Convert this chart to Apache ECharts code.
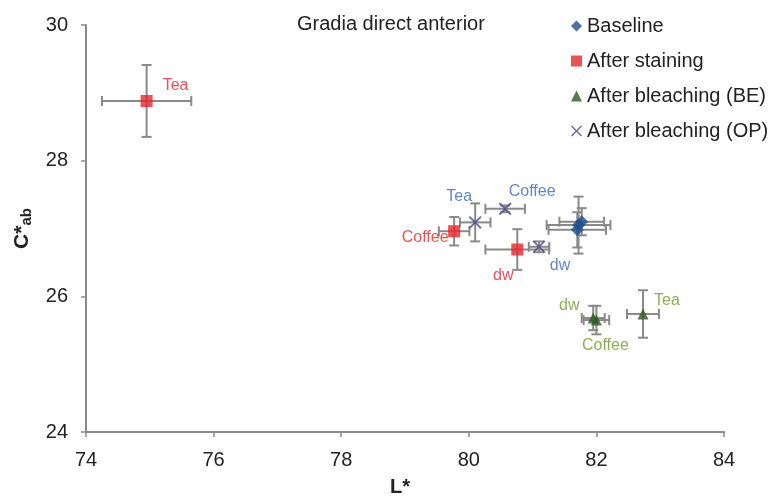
<!DOCTYPE html>
<html>
<head>
<meta charset="utf-8">
<script src="https://cdn.jsdelivr.net/npm/echarts@6/dist/echarts.min.js"></script>
<style>
  html, body { margin: 0; padding: 0; background: #fff; }
  #chart { width: 780px; height: 496px; }
</style>
</head>
<body>
<div id="chart"></div>
<script>
// values: [L*, C*ab], errors: [L* err, C* err]
const baseline = [[81.72, 27.05], [81.77, 27.10], [81.70, 26.98]];
const baselineErr = [[0.50, 0.42], [0.35, 0.20], [0.45, 0.26]];

const staining = [[74.95, 28.88], [79.77, 26.96], [80.76, 26.69]];
const stainingErr = [[0.70, 0.53], [0.24, 0.21], [0.50, 0.30]];
const stainingNames = ['Tea', 'Coffee', 'dw'];

const bleachBE = [[82.73, 25.74], [82.00, 25.65], [81.95, 25.68]];
const bleachBEErr = [[0.25, 0.35], [0.20, 0.21], [0.18, 0.18]];
const bleachBENames = ['Tea', 'Coffee', 'dw'];

const bleachOP = [[80.10, 27.09], [80.57, 27.29], [81.10, 26.73]];
const bleachOPErr = [[0.24, 0.28], [0.31, 0.05], [0.16, 0.08]];
const bleachOPNames = ['Tea', 'Coffee', 'dw'];

const xTicks = [74, 76, 78, 80, 82, 84];
const yTicks = [24, 26, 28, 30];

let chart = echarts.init(document.getElementById('chart'));

// 误差线
function errData(pts, errs) {
  return pts.map((p, i) => [p[0], p[1], errs[i][0], errs[i][1]]);
}
function renderErr(params, api) {
  const x = api.value(0), y = api.value(1), ex = api.value(2), ey = api.value(3);
  const l = api.coord([x - ex, y]), r = api.coord([x + ex, y]);
  const t = api.coord([x, y + ey]), b = api.coord([x, y - ey]);
  const c = 5;
  const style = { stroke: '#8a8a8a', lineWidth: 2 };
  const line = (x1, y1, x2, y2) => ({ type: 'line', shape: { x1, y1, x2, y2 }, style });
  return {
    type: 'group',
    children: [
      line(l[0], l[1], r[0], r[1]),
      line(l[0], l[1] - c, l[0], l[1] + c),
      line(r[0], r[1] - c, r[0], r[1] + c),
      line(t[0], t[1], b[0], b[1]),
      line(t[0] - c, t[1], t[0] + c, t[1]),
      line(b[0] - c, b[1], b[0] + c, b[1])
    ]
  };
}
function errSeries(pts, errs) {
  return {
    type: 'custom',
    renderItem: renderErr,
    data: errData(pts, errs),
    silent: true,
    z: 1,
    encode: { x: 0, y: 1 }
  };
}

// label offsets (pixels, relative to marker centre)
const stainOff = [[29, -15], [-29, 6], [-14, 26]];
const beOff = [[24, -13], [9, 26], [-24, -12]];
const opOff = [[-16, -26], [27, -17], [21, 19]];

function labelled(pts, names, offs, color) {
  return pts.map((p, i) => ({
    value: p,
    label: {
      show: true,
      position: 'inside',
      offset: offs[i],
      formatter: names[i],
      color: color,
      fontSize: 16,
      fontFamily: 'Liberation Sans, Arial, sans-serif'
    }
  }));
}

const xShape = 'path://M0,1L1,0L5,4L9,0L10,1L6,5L10,9L9,10L5,6L1,10L0,9L4,5Z';

let option = {
  animation: false,
  textStyle: { fontFamily: 'Liberation Sans, Arial, sans-serif' },
  title: {
    text: 'Gradia direct anterior',
    left: 292,
    top: 9,
    textStyle: { fontSize: 20, fontWeight: 'normal', color: '#222' }
  },
  legend: {
    orient: 'vertical',
    left: 566,
    top: 11,
    itemWidth: 11,
    itemHeight: 11,
    itemGap: 15,
    textStyle: { fontSize: 20, color: '#222' },
    data: [
      { name: 'Baseline', icon: 'diamond' },
      { name: 'After staining', icon: 'rect' },
      { name: 'After bleaching (BE)', icon: 'triangle' },
      { name: 'After bleaching (OP)', icon: xShape }
    ]
  },
  grid: { left: 86, right: 56, top: 25, bottom: 64, outerBoundsMode: 'none' },
  xAxis: {
    type: 'value',
    min: 74, max: 84, interval: 2,
    name: 'L*',
    nameLocation: 'middle',
    nameGap: 45,
    nameTextStyle: { fontSize: 20, fontWeight: 'bold', color: '#222', padding: [0, 10, 0, 0] },
    axisLine: { lineStyle: { color: '#8a8a8a', width: 2 } },
    axisTick: { show: true, length: 5, lineStyle: { color: '#8a8a8a', width: 1.5 } },
    axisLabel: { fontSize: 20, color: '#222', margin: 18 },
    splitLine: { show: false }
  },
  yAxis: {
    type: 'value',
    min: 24, max: 30, interval: 2,
    name: '{a|C*}{s|ab}',
    nameLocation: 'middle',
    nameRotate: 90,
    nameGap: 50,
    nameTextStyle: {
      rich: {
        a: { fontSize: 21, fontWeight: 'bold', color: '#222' },
        s: { fontSize: 15, fontWeight: 'bold', color: '#222', padding: [10, 0, 0, 0] }
      }
    },
    axisLine: { show: true, lineStyle: { color: '#8a8a8a', width: 2 } },
    axisTick: { show: true, length: 5, lineStyle: { color: '#8a8a8a', width: 1.5 } },
    axisLabel: { fontSize: 20, color: '#222', margin: 18 },
    splitLine: { show: false }
  },
  series: [
    errSeries(baseline, baselineErr),
    errSeries(staining, stainingErr),
    errSeries(bleachBE, bleachBEErr),
    errSeries(bleachOP, bleachOPErr),
    {
      name: 'Baseline',
      type: 'scatter',
      symbol: 'diamond',
      symbolSize: 13,
      itemStyle: { color: '#1f4f8f' },
      data: baseline,
      z: 3
    },
    {
      name: 'After staining',
      type: 'scatter',
      symbol: 'rect',
      symbolSize: 12,
      itemStyle: { color: '#e8262a' },
      data: labelled(staining, stainingNames, stainOff, '#e8262a'),
      z: 3
    },
    {
      name: 'After bleaching (BE)',
      type: 'scatter',
      symbol: 'triangle',
      symbolSize: 11,
      itemStyle: { color: '#2d5a1e' },
      data: labelled(bleachBE, bleachBENames, beOff, '#6e9a2e'),
      z: 3
    },
    {
      name: 'After bleaching (OP)',
      type: 'scatter',
      symbol: xShape,
      symbolSize: 13,
      itemStyle: { color: '#4c4c8c' },
      data: labelled(bleachOP, bleachOPNames, opOff, '#3a67b8'),
      z: 3
    }
  ]
};
chart.setOption(option);
</script>
</body>
</html>
